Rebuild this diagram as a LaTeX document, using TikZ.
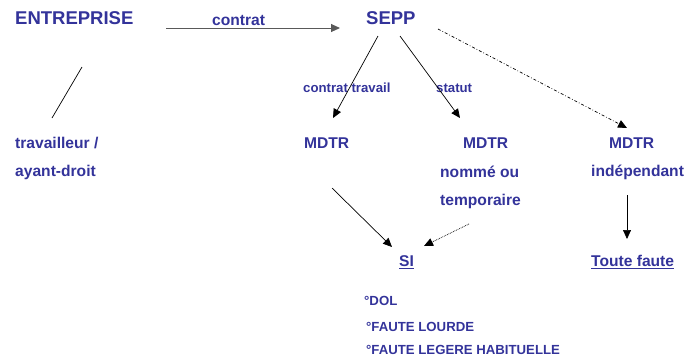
\documentclass[tikz,border=0pt]{standalone}
\usepackage{fontspec}
\setmainfont{Liberation Sans}
\usetikzlibrary{arrows.meta}
\definecolor{tblue}{HTML}{33339A}
\tikzset{
  lbl/.style={text=tblue, font=\bfseries\fontsize{15.6}{18}\selectfont, inner sep=0pt, anchor=west},
  big/.style={lbl, font=\bfseries\fontsize{18.5}{21}\selectfont},
  small/.style={lbl, font=\bfseries\fontsize{13.2}{15}\selectfont},
  conn/.style={black, line width=0.7pt, -{Triangle[length=9pt,width=8pt]}},
}
\begin{document}
\begin{tikzpicture}[x=1pt,y=-1pt]
\useasboundingbox (0,0) rectangle (688,360);
\node[big] (ent) at (15,18) {ENTREPRISE};
\node[lbl] (contrat) at (212,20) {contrat};
\node[big] (sepp) at (366,18) {SEPP};
\node[lbl] (trav1) at (15,143) {travailleur /};
\node[lbl] (trav2) at (15,172) {ayant-droit};
\node[small] (ctrav) at (303,88) {contrat travail};
\node[small] (statut) at (436,88) {statut};
\node[lbl] (m1) at (304,143) {MDTR};
\node[lbl] (m2) at (463,143) {MDTR};
\node[lbl] (m2b) at (440,172) {nommé ou};
\node[lbl] (m2c) at (440,201) {temporaire};
\node[lbl] (m3) at (609,143) {MDTR};
\node[lbl] (m3b) at (591,172) {indépendant};
\node[lbl] (si) at (399,262) {\underline{SI}};
\node[lbl] (tf) at (591,262) {\underline{Toute faute}};
\node[small] (dol) at (364,301) {°DOL};
\node[small] (fl) at (366,327) {°FAUTE LOURDE};
\node[small] (flh) at (366,350) {°FAUTE LEGERE HABITUELLE};

\coordinate (a1) at (166,28);
\coordinate (a2) at (340,28);
\coordinate (b1) at (82,67);
\coordinate (b2) at (52,118);
\coordinate (c1) at (378,36);
\coordinate (c2) at (333,118);
\coordinate (d1) at (400,36);
\coordinate (d2) at (460,118);
\coordinate (e1) at (438,29);
\coordinate (e2) at (627,128);
\coordinate (f1) at (332,188);
\coordinate (f2) at (392,247);
\coordinate (g1) at (469,224);
\coordinate (g2) at (424,246);
\coordinate (h1) at (627,195);
\coordinate (h2) at (627,239);

\draw[conn, draw=black!65, line width=1pt] (a1) -- (a2);
\draw[black, line width=0.7pt] (b1) -- (b2);
\draw[conn] (c1) -- (c2);
\draw[conn] (d1) -- (d2);
\draw[conn, dash dot] (e1) -- (e2);
\draw[conn] (f1) -- (f2);
\draw[conn, densely dotted] (g1) -- (g2);
\draw[conn] (h1) -- (h2);
\end{tikzpicture}
\end{document}
